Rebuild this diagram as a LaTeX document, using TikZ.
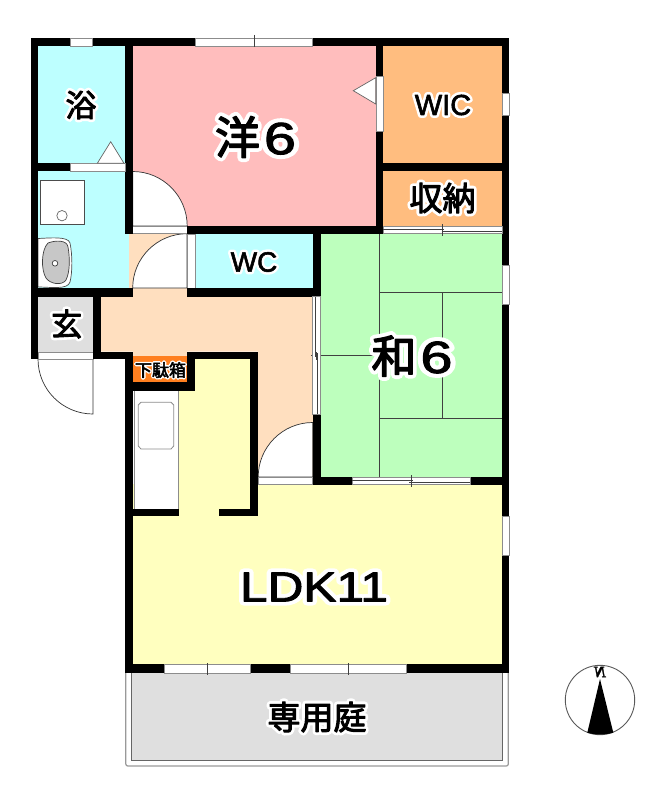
\documentclass[tikz,border=0pt]{standalone}
\usepackage{fontspec}
\newfontfamily\CJ[FakeBold=3]{Noto Sans CJK JP}
\newfontfamily\LA[FakeBold=2]{Liberation Sans}
\newfontfamily\CJH[FakeBold=20]{Noto Sans CJK JP}
\newfontfamily\LAH[FakeBold=20]{Liberation Sans}
\newfontfamily\nf[FakeBold=2]{Liberation Serif}
\newcommand{\hl}[2]{\fontsize{#1}{#1}\selectfont
  \makebox[0pt]{\color{white}\let\CJ\CJH\let\LA\LAH #2}\makebox[0pt]{#2}}
\definecolor{cpink}{HTML}{FFBDBD}
\definecolor{cblue}{HTML}{BDFFFF}
\definecolor{cor}{HTML}{FFBD7F}
\definecolor{cgreen}{HTML}{BDFFBD}
\definecolor{cyel}{HTML}{FFFFBF}
\definecolor{cpeach}{HTML}{FFDFBF}
\definecolor{cgray}{HTML}{DFDFDF}
\definecolor{cshoe}{HTML}{FF7F1F}
\tikzset{
  wall/.style={fill=black},
  winbox/.style={fill=white,draw=black!45,line width=0.7pt},
  thin line/.style={draw=black!75,line width=0.7pt},
  doorleaf/.style={fill=white,draw=black!80,line width=0.7pt},
  fixture/.style={fill=white,draw=black!45,line width=0.8pt},
  lbl/.style={inner sep=0pt,anchor=center}
}
\begin{document}
\begin{tikzpicture}[x=1pt,y=-1pt]
\useasboundingbox (0,0) rectangle (665,800);
% room fills
\fill[cblue] (38,46) rectangle (125,171);
\fill[cblue] (38,171) rectangle (129,288);
\fill[cpink] (132.7,46) rectangle (376,226);
\fill[cor] (383,46) rectangle (502,163);
\fill[cor] (383,171) rectangle (502,226);
\fill[cblue] (195,234) rectangle (313,288);
\fill[cgreen] (320.7,233) rectangle (502,477);
\fill[cgray] (38,296.7) rectangle (93.3,352);
\fill[cpeach] (129,234) rectangle (187,296.7);
\fill[cpeach] (101,296.7) -- (313,296.7) -- (313,477) -- (258,477) -- (258,351.5) -- (101,351.5) -- cycle;
\fill[cpeach] (132.7,351) rectangle (187,356);
\fill[cyel] (132.7,484) rectangle (502,664);
\fill[cyel] (178,388) rectangle (250,510);
\fill[cyel] (195,358) rectangle (250,390);
\fill[cshoe] (132.7,355.7) rectangle (187,382.3);
% garden
\draw[draw=black!40,line width=1.2pt,rounded corners=2pt] (125.8,672) -- (125.8,766) -- (508.3,766) -- (508.3,672);
\fill[cgray,draw=black!60,line width=1pt] (131.7,672) rectangle (502.3,760);
% tatami
\draw[thin line] (379.7,233) -- (379.7,477);
\draw[thin line] (380,292.7) -- (502,292.7);
\draw[thin line] (380,418) -- (502,418);
\draw[thin line] (442.7,292.7) -- (442.7,418);
\draw[thin line] (311,355.3) -- (380,355.3);
% doors
\fill[white] (129,226) rectangle (187,234);
\path[doorleaf] (132.7,171.5) .. controls (162.8,171.5) and (187.2,196) .. (187.2,226) -- (132.7,226) -- cycle;
\path[doorleaf] (187,233.7) .. controls (157,233.7) and (132.7,258) .. (132.7,288) -- (187,288) -- cycle;
\path[doorleaf] (38,359) .. controls (38,389.4) and (62.6,414) .. (93,414) -- (93,359) -- cycle;
\path[doorleaf] (312.7,422.5) .. controls (282.6,422.5) and (258.2,447) .. (258.2,477) -- (312.7,477) -- cycle;
% thresholds
\path[winbox] (132.7,226) rectangle (187.2,233.7);
\path[winbox] (187.2,234) rectangle (195,288);
\path[winbox] (38,352) rectangle (93,359);
\path[winbox] (258.2,477) rectangle (312.7,484);
% kitchen
\path[fixture] (134,390) rectangle (178.7,509);
\path[fixture] (141,402.3) -- (171,402.3) -- (173.7,405) -- (173.7,446) -- (171,449) -- (141,449) -- (138.3,446) -- (138.3,405) -- cycle;
% wash room
\path[fill=white,draw=black!70,line width=0.8pt] (40,180) rectangle (84.3,224);
\path[fill=white,draw=black!60,line width=0.7pt] (62,215.7) circle (5.2);
\path[fill=white,draw=black!70,line width=0.7pt] (38,238.5) .. controls (50,238) and (68,236) .. (70,243) .. controls (72.5,255) and (72.5,272) .. (70,282) .. controls (68,290) and (50,287) .. (38,287) -- cycle;
\path[fill=black!22,draw=black!75,line width=0.7pt] (48,243) .. controls (56,240) and (67,240) .. (68,247) .. controls (70,258) and (70,272) .. (66,280) .. controls (62,286) and (50,284) .. (46,278) .. controls (41,270) and (41,250) .. (48,243) -- cycle;
\path[fill=white,draw=black!75,line width=0.7pt] (55,263.3) circle (2.8);
% walls
\fill[wall] (31,38) rectangle (509,46);
\fill[wall] (31,38) rectangle (38,359);
\fill[wall] (502,38) rectangle (509,673);
\fill[wall] (125,38) rectangle (132.7,234);
\fill[wall] (31,163.3) rectangle (70,171);
\fill[wall] (376,38) rectangle (383.3,234);
\fill[wall] (383,163) rectangle (502,171);
\fill[wall] (187,226) rectangle (383,234);
\fill[wall] (312.7,226) rectangle (320.7,297);
\fill[wall] (31,288) rectangle (132.7,296.7);
\fill[wall] (187,288) rectangle (320.7,296.7);
\fill[wall] (93.3,296) rectangle (101,359);
\fill[wall] (93.3,351.5) rectangle (132.7,359);
\fill[wall] (125,351.5) rectangle (132.7,673);
\fill[wall] (187,351.5) rectangle (258,359);
\fill[wall] (187,351.5) rectangle (195,390.7);
\fill[wall] (125,382.3) rectangle (195,390.7);
\fill[wall] (250.3,351.5) rectangle (258,516);
\fill[wall] (125,508.7) rectangle (179.3,516);
\fill[wall] (218.7,508.7) rectangle (258,516);
\fill[wall] (312.7,414) rectangle (320.7,485);
\fill[wall] (312.7,477) rectangle (502,485);
\fill[wall] (124.7,664.3) rectangle (509,673);
% windows
\path[winbox] (70,38) rectangle (92.7,46);
\path[winbox] (195.7,38) rectangle (312.3,46);
\draw[thin line] (254,35) -- (254,47);
\path[winbox] (70,163.5) rectangle (125,171);
\path[winbox] (376,76.7) rectangle (383.3,131.7);
\path[winbox] (502,93.3) rectangle (509,115.7);
\path[winbox] (502,265.7) rectangle (509,304);
\path[winbox] (502,516) rectangle (509,555);
\path[winbox] (383.3,226.2) rectangle (502,233);
\draw[thin line] (383.3,229) -- (444,229);
\draw[thin line] (441.5,231) -- (502,231);
\draw[thin line] (442.7,224) -- (442.7,236);
\path[winbox] (312.7,296.7) rectangle (320.7,414);
\draw[thin line] (315.5,296.7) -- (315.5,357);
\draw[thin line] (317.7,353) -- (317.7,414);
\draw[thin line] (316.5,352) -- (316.5,360);
\path[winbox] (352.3,477) rectangle (470,484.5);
\draw[thin line] (352.3,480) -- (413,480);
\draw[thin line] (409,482) -- (470,482);
\draw[thin line] (411,475) -- (411,487);
\path[winbox] (164,664.5) rectangle (250,673);
\draw[thin line] (207,663) -- (207,675);
\path[winbox] (290,664.5) rectangle (406.7,673);
\draw[thin line] (348,663) -- (348,675);
% triangles
\path[fill=white,draw=black!60,line width=0.7pt] (97.3,163.3) -- (110.7,141.7) -- (124,163.3) -- cycle;
\path[fill=white,draw=black!60,line width=0.7pt] (375.7,77.7) -- (353.3,90.7) -- (375.7,104) -- cycle;
% labels
\begin{scope}[line join=round]
\node[lbl] (bath) at (81,105) {\hl{31}{\CJ 浴}};
\node[lbl] (yo) at (255.5,137) {\hl{45}{\CJ 洋\hspace{4pt}\scalebox{1.28}[1]{\LA 6}}};
\node[lbl] (wic) at (443,105) {\hl{29}{\LA WIC}};
\node[lbl] (shuno) at (442.5,198) {\hl{33}{\CJ 収納}};
\node[lbl] (wc) at (254,262) {\hl{28}{\LA WC}};
\node[lbl] (wa) at (412,356) {\hl{45}{\CJ 和\hspace{4pt}\scalebox{1.28}[1]{\LA 6}}};
\node[lbl] (gen) at (66.7,324) {\hl{31}{\CJ 玄}};
\node[lbl] (shoe) at (160.5,370) {\hl{17}{\CJ 下駄箱}};
\node[lbl] (ldk) at (314,587) {\hl{42}{\scalebox{1.18}[1]{\LA LDK11}}};
\node[lbl] (niwa) at (317,717) {\hl{33}{\CJ 専用庭}};
\end{scope}
% compass
\draw[black!65,line width=0.9pt] (600,700) circle (34.7);
\fill[black] (600,679) -- (613.3,732.7) .. controls (605,735) and (595,735) .. (587.3,732.7) -- cycle;
\node[inner sep=0pt,xscale=-1,font=\fontsize{16}{16}\selectfont\nf\bfseries\itshape] (north) at (600,672) {N};
\end{tikzpicture}
\end{document}
